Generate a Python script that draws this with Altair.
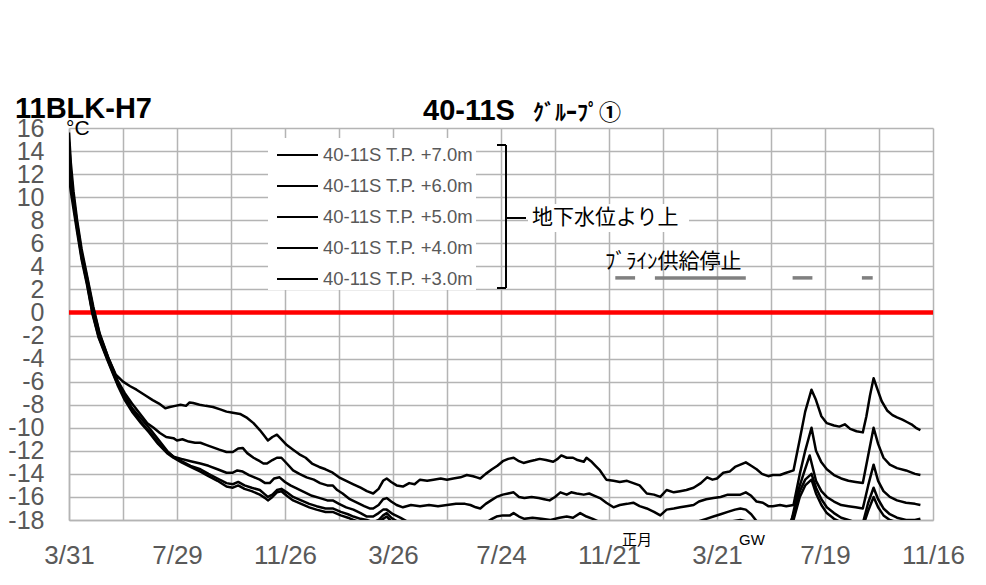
import altair as alt
import pandas as pd

# ---------------- data (days since 3/31, temperature in °C) ----------------
series_names = ["40-11S T.P. +7.0m", "40-11S T.P. +6.0m", "40-11S T.P. +5.0m",
                "40-11S T.P. +4.0m", "40-11S T.P. +3.0m"]

s1_days = [0, 2, 5, 9, 14, 20, 27, 34, 44, 52, 60, 68, 75, 85, 93, 100, 107, 112, 118, 124, 130, 134,
           138, 145, 152, 160, 168, 175, 182, 190, 198, 205, 212, 217, 221, 226, 231, 236, 242, 249,
           256, 263, 270, 278, 285, 293, 300, 308, 316, 324, 331, 338, 344, 349, 353, 358, 364, 371,
           378, 384, 390, 398, 405, 413, 420, 427, 435, 442, 449, 453, 457, 463, 470, 476, 482, 488,
           494, 500, 505, 512, 518, 523, 530, 538, 543, 547, 553, 560, 565, 572, 575, 580, 585, 590,
           597, 605, 612, 620, 627, 634, 642, 650, 657, 664, 672, 679, 686, 694, 702, 709, 715, 720,
           727, 734, 740, 746, 752, 758, 764, 770, 777, 782, 790, 797, 805, 812, 818, 825, 830, 836,
           842, 850, 856, 862, 868, 875, 882, 886, 890, 894, 898, 903, 909, 915, 920, 926, 931, 936,
           941, 946]
s1_vals = [15.6, 13.0, 10.5, 8.0, 5.5, 3.2, 0.5, -1.8, -4.0, -5.4, -6.0, -6.4, -6.7, -7.2, -7.6, -7.9,
           -8.3, -8.2, -8.1, -8.0, -8.1, -7.8, -7.85, -8.0, -8.1, -8.2, -8.4, -8.6, -8.7, -8.8, -9.15,
           -9.6, -10.2, -10.7, -11.1, -10.8, -10.6, -11.0, -11.5, -11.9, -12.3, -12.6, -13.1, -13.4,
           -13.6, -13.9, -14.3, -14.6, -14.9, -15.2, -15.5, -15.7, -15.3, -14.6, -14.4, -14.7, -15.0,
           -15.1, -14.8, -14.9, -14.5, -14.6, -14.5, -14.4, -14.5, -14.4, -14.3, -14.1, -14.2, -14.3,
           -14.4, -14.0, -13.6, -13.3, -12.9, -12.7, -12.6, -12.9, -13.05, -12.9, -12.8, -12.7, -12.8,
           -12.95, -12.7, -12.4, -12.6, -12.6, -12.8, -12.95, -12.6, -12.9, -13.3, -13.7, -14.5, -14.6,
           -14.7, -14.6, -14.8, -15.0, -15.7, -15.8, -16.0, -15.4, -15.6, -15.5, -15.4, -15.2, -14.8,
           -14.3, -14.5, -14.4, -13.9, -13.8, -13.4, -13.2, -13.0, -13.3, -13.6, -14.0, -14.2, -14.1,
           -14.1, -13.9, -13.7, -11.0, -8.6, -6.7, -7.6, -9.0, -9.6, -9.8, -9.9, -9.7, -10.1, -10.3,
           -10.4, -9.0, -7.2, -5.7, -6.6, -7.7, -8.5, -8.9, -9.1, -9.3, -9.5, -9.7, -10.0, -10.2]

s2_days = [0, 2, 5, 9, 14, 20, 27, 34, 44, 54, 62, 70, 78, 87, 94, 101, 108, 116, 120, 126, 133, 140,
           146, 153, 160, 167, 175, 182, 188, 193, 198, 205, 212, 216, 220, 226, 231, 236, 242, 249,
           256, 264, 272, 279, 287, 293, 298, 304, 312, 320, 328, 334, 338, 344, 349, 353, 358, 364,
           371, 380, 390, 400, 410, 420, 430, 440, 446, 452, 457, 463, 469, 475, 482, 488, 494, 500,
           506, 514, 522, 528, 534, 540, 546, 553, 558, 564, 572, 578, 584, 590, 597, 605, 612, 620,
           627, 634, 642, 650, 657, 664, 672, 679, 686, 694, 700, 708, 716, 724, 732, 740, 746, 752,
           758, 764, 771, 777, 782, 790, 797, 805, 812, 818, 825, 830, 836, 842, 850, 858, 866, 874,
           882, 887, 891, 894, 899, 905, 912, 920, 930, 940, 946]
s2_vals = [14.8, 12.3, 10.0, 7.7, 5.2, 3.0, 0.3, -1.9, -4.0, -5.9, -7.0, -7.9, -8.7, -9.6, -10.0,
           -10.45, -10.8, -10.9, -11.1, -11.0, -11.2, -11.3, -11.3, -11.5, -11.7, -11.9, -12.1, -12.1,
           -11.8, -11.75, -12.2, -12.6, -12.9, -13.1, -13.1, -12.8, -12.6, -12.6, -13.1, -13.7, -14.0,
           -14.3, -14.5, -14.8, -15.0, -15.0, -15.4, -15.7, -16.2, -16.5, -16.8, -17.0, -17.0, -16.7,
           -16.2, -16.1, -16.4, -16.7, -16.9, -16.7, -16.8, -16.7, -16.8, -16.7, -16.6, -16.6, -16.7,
           -16.9, -17.0, -16.6, -16.3, -16.0, -15.8, -15.7, -15.6, -16.0, -16.1, -16.0, -16.1, -16.2,
           -16.3, -16.0, -15.6, -15.8, -15.6, -15.7, -15.8, -15.7, -15.9, -16.1, -16.5, -16.9, -16.7,
           -16.6, -16.5, -16.8, -17.0, -17.3, -17.6, -17.1, -17.0, -16.9, -16.8, -16.7, -16.4, -16.2,
           -16.1, -16.0, -15.8, -15.8, -15.8, -15.6, -15.9, -16.4, -16.5, -16.8, -16.8, -16.7, -16.8,
           -16.7, -14.0, -12.0, -10.0, -12.0, -13.0, -13.6, -14.1, -14.4, -14.6, -14.7, -14.8, -12.8,
           -11.2, -10.0, -11.4, -12.6, -13.2, -13.5, -13.7, -14.0, -14.1]

s3_days = [0, 2, 5, 9, 14, 20, 26, 33, 43, 54, 62, 70, 80, 89, 99, 109, 116, 125, 135, 146, 155, 165,
           175, 182, 187, 193, 200, 206, 212, 218, 223, 228, 234, 240, 246, 254, 262, 270, 279, 287,
           293, 300, 308, 316, 324, 331, 338, 344, 349, 353, 360, 368, 375, 385, 400, 420, 440, 455,
           464, 470, 475, 482, 490, 494, 500, 506, 515, 525, 535, 545, 553, 560, 568, 575, 582, 590,
           600, 615, 630, 645, 660, 670, 680, 690, 700, 708, 716, 724, 732, 740, 746, 752, 758, 764,
           771, 780, 790, 797, 803, 810, 817, 823, 830, 836, 842, 850, 858, 866, 874, 882, 888, 894,
           899, 905, 912, 920, 930, 940, 946]
s3_vals = [13.9, 11.8, 9.7, 7.5, 5.0, 2.8, 0.2, -2.0, -4.0, -6.0, -7.2, -8.3, -9.2, -10.0, -11.0,
           -12.0, -12.5, -12.7, -12.9, -13.1, -13.3, -13.6, -13.9, -13.9, -13.7, -13.8, -14.1, -14.3,
           -14.5, -14.8, -14.8, -14.4, -14.3, -14.7, -15.0, -15.3, -15.6, -15.9, -16.1, -16.3, -16.3,
           -16.6, -16.9, -17.1, -17.4, -17.7, -17.7, -17.4, -17.1, -17.1, -17.5, -17.8, -18.1, -18.3,
           -18.4, -18.5, -18.4, -18.3, -18.2, -17.9, -17.7, -17.6, -17.6, -17.4, -17.7, -17.9, -17.8,
           -17.9, -18.0, -17.8, -17.7, -17.8, -17.4, -17.7, -17.9, -18.2, -18.5, -18.6, -18.6, -18.7,
           -18.9, -18.7, -18.5, -18.3, -18.1, -17.9, -17.7, -17.5, -17.3, -17.1, -17.0, -17.1, -17.5,
           -18.1, -18.4, -18.7, -18.7, -18.6, -18.0, -15.5, -13.8, -12.4, -14.6, -15.5, -16.0, -16.4,
           -16.7, -16.8, -16.9, -17.0, -15.0, -13.2, -14.6, -15.5, -16.0, -16.3, -16.5, -16.6, -16.7]

s4_days = [0, 2, 5, 9, 14, 20, 26, 33, 43, 54, 62, 70, 80, 89, 99, 109, 116, 125, 135, 146, 155, 165,
           175, 182, 188, 195, 203, 212, 218, 221, 226, 231, 236, 242, 249, 258, 267, 275, 285, 293,
           302, 310, 316, 324, 331, 338, 344, 349, 353, 358, 366, 380, 420, 470, 490, 520, 560, 600,
           650, 700, 730, 746, 752, 760, 790, 798, 805, 812, 818, 825, 830, 836, 842, 850, 858, 866,
           874, 882, 888, 894, 899, 905, 912, 920, 930, 940, 946]
s4_vals = [12.7, 11.2, 9.4, 7.3, 4.8, 2.6, 0.0, -2.1, -4.1, -6.2, -7.4, -8.5, -9.5, -10.3, -11.3,
           -12.1, -12.5, -12.9, -13.3, -13.6, -14.0, -14.4, -14.8, -14.9, -14.7, -15.0, -15.2, -15.4,
           -15.8, -16.0, -15.8, -15.4, -15.3, -15.6, -16.0, -16.3, -16.6, -16.8, -17.0, -17.0, -17.3,
           -17.5, -17.7, -17.9, -18.0, -18.2, -18.0, -17.6, -17.4, -17.8, -18.2, -18.5, -18.8, -18.6,
           -18.4, -18.5, -18.4, -18.8, -19.0, -18.6, -18.2, -18.0, -18.1, -18.5, -19.0, -19.0, -17.5,
           -15.5, -14.5, -14.0, -15.2, -16.2, -16.9, -17.4, -17.8, -18.0, -18.2, -18.3, -16.5, -15.2,
           -16.2, -17.0, -17.5, -17.8, -18.0, -18.0, -17.9]

s5_days = [0, 2, 5, 9, 14, 20, 26, 33, 43, 54, 62, 70, 80, 89, 99, 109, 116, 125, 135, 146, 155, 165,
           175, 182, 188, 195, 203, 212, 218, 221, 226, 231, 236, 242, 249, 258, 267, 275, 285, 293,
           302, 310, 316, 324, 338, 349, 353, 358, 366, 400, 500, 600, 700, 760, 798, 805, 812, 818,
           825, 830, 836, 842, 850, 858, 870, 882, 888, 894, 899, 905, 912, 920, 946]
s5_vals = [11.8, 10.5, 9.0, 7.0, 4.6, 2.4, -0.1, -2.2, -4.2, -6.3, -7.6, -8.6, -9.6, -10.4, -11.4,
           -12.2, -12.6, -13.0, -13.4, -13.8, -14.2, -14.6, -15.1, -15.2, -15.0, -15.3, -15.5, -15.8,
           -16.1, -16.3, -16.0, -15.6, -15.5, -15.9, -16.3, -16.6, -16.9, -17.1, -17.3, -17.3, -17.6,
           -17.8, -18.0, -18.2, -18.5, -17.9, -17.7, -18.1, -18.5, -19.0, -19.2, -19.5, -19.5, -19.4,
           -19.5, -18.0, -16.0, -15.0, -14.5, -15.7, -16.7, -17.4, -17.9, -18.2, -18.5, -18.6, -17.2,
           -16.0, -16.9, -17.6, -18.0, -18.2, -18.3]

# brine supply stop periods (days since 3/31) shown as grey dashes at 3 °C
brine_start = [607, 651, 804, 881]
brine_end = [629, 752, 826, 893]
brine_level = [3, 3, 3, 3]

# x axis: grid every 60 days, labels every 120 days
x_label_days = [0, 120, 240, 360, 480, 600, 720, 840, 960]
x_labels = ["3/31", "7/29", "11/26", "3/26", "7/24", "11/21", "3/21", "7/19", "11/16"]
x_grid_days = list(range(0, 961, 60))
y_ticks = list(range(-18, 17, 2))
zero_line = [0]

# ---------------- build tables ----------------
rows = []
for name, d, v in zip(series_names,
                      [s1_days, s2_days, s3_days, s4_days, s5_days],
                      [s1_vals, s2_vals, s3_vals, s4_vals, s5_vals]):
    for dd, vv in zip(d, v):
        rows.append({"series": name, "day": dd, "temp": vv})
df = pd.DataFrame(rows)
brine_df = pd.DataFrame({"start": brine_start, "end": brine_end, "level": brine_level})
zero_df = pd.DataFrame({"y": zero_line})

label_expr = " : ".join(f"datum.value == {d} ? '{t}'" for d, t in zip(x_label_days, x_labels)) + " : ''"

GRID = "#b4b4b4"
TICKFONT = "Liberation Sans"
JP = "Noto Sans CJK JP"
XS = alt.Scale(domain=[0, 960], nice=False, zero=False)
YS = alt.Scale(domain=[-18, 16], nice=False, zero=False)

X_AXIS = alt.Axis(values=x_grid_days, labelExpr=label_expr, title=None, ticks=False,
                  labelFontSize=26, labelColor="#595959", labelFont=TICKFONT,
                  labelPadding=22, labelFlush=False, labelOverlap=False, labelBound=False,
                  grid=True, gridColor=GRID, gridWidth=1.5,
                  domainColor=GRID, domainWidth=1.5)
Y_AXIS = alt.Axis(values=y_ticks, title=None, ticks=False,
                  labelExpr="toString(datum.value)",
                  labelFontSize=25, labelColor="#595959", labelFont=TICKFONT,
                  labelPadding=25, labelOverlap=False, labelFlush=False, labelBound=False,
                  grid=True, gridColor=GRID, gridWidth=1.5,
                  domainColor=GRID, domainWidth=1.5)

lines = alt.Chart(df).mark_line(color="black", strokeWidth=2.5, clip=True,
                                strokeJoin="round").encode(
    x=alt.X("day:Q", scale=XS, axis=X_AXIS),
    y=alt.Y("temp:Q", scale=YS, axis=Y_AXIS),
    detail="series:N", order="day:Q")

zero_rule = alt.Chart(zero_df).mark_rule(color="#ff0000", strokeWidth=4.5).encode(
    y=alt.Y("y:Q", scale=YS, axis=Y_AXIS))

brine = alt.Chart(brine_df).mark_rule(color="#808080", strokeWidth=3.5).encode(
    x=alt.X("start:Q", scale=XS, axis=X_AXIS), x2="end:Q",
    y=alt.Y("level:Q", scale=YS, axis=Y_AXIS))


def txt(text, x, y, size, font=JP, color="black", weight="normal", align="left", baseline="middle"):
    return alt.Chart(pd.DataFrame({"t": [text]})).mark_text(
        font=font, fontSize=size, color=color, fontWeight=weight, align=align, baseline=baseline
    ).encode(x=alt.value(x), y=alt.value(y), text="t:N")


def rule(x1, x2, y1, y2, color="black", width=2):
    return alt.Chart(pd.DataFrame({"a": [0]})).mark_rule(color=color, strokeWidth=width).encode(
        x=alt.value(x1), x2=alt.value(x2), y=alt.value(y1), y2=alt.value(y2))


def box(x1, x2, y1, y2):
    return alt.Chart(pd.DataFrame({"a": [0]})).mark_rect(color="white").encode(
        x=alt.value(x1), x2=alt.value(x2), y=alt.value(y1), y2=alt.value(y2))


# legend (drawn inside the plot, with a bracket)
legend_layers = [box(199, 407, 10, 162)]
row_y = [27, 58, 89, 120, 151]
for name, ry in zip(series_names, row_y):
    legend_layers.append(rule(208, 249, ry, ry, width=2))
    legend_layers.append(txt(name, 254, ry, 18.5, font="Liberation Sans", color="#595959"))
legend_layers += [
    rule(437, 437, 17, 160), rule(428, 437, 17, 17), rule(428, 437, 160, 160),
    rule(437, 457, 90, 90),
    box(459, 620, 76, 104),
    txt("地下水位より上", 463, 90, 21),
    txt("ﾌﾞﾗｲﾝ供給停止", 536, 134, 21),
    txt("正月", 568, 412, 15, align="center"),
    txt("GW", 683, 412, 15, font="Liberation Sans", align="center"),
    txt("11BLK-H7", -54, -10, 29, font="Liberation Sans", weight="bold", baseline="alphabetic"),
    txt("40-11S", 354, -8, 29, font="Liberation Sans", weight="bold", baseline="alphabetic"),
    txt("ｸﾞﾙｰﾌﾟ①", 464, -8, 22, weight="bold", baseline="alphabetic"),
    txt("°C", -3, 7, 21, font="Liberation Sans", baseline="alphabetic"),
]

chart = alt.layer(zero_rule, lines, brine, *legend_layers).properties(
    width=864, height=392,
    padding={"left": 61, "top": 120, "right": 45, "bottom": 57},
    autosize=alt.AutoSizeParams(type="none"),
).configure_view(strokeWidth=0)

chart.save("out.html", embed_options={"renderer": "svg", "actions": False})
